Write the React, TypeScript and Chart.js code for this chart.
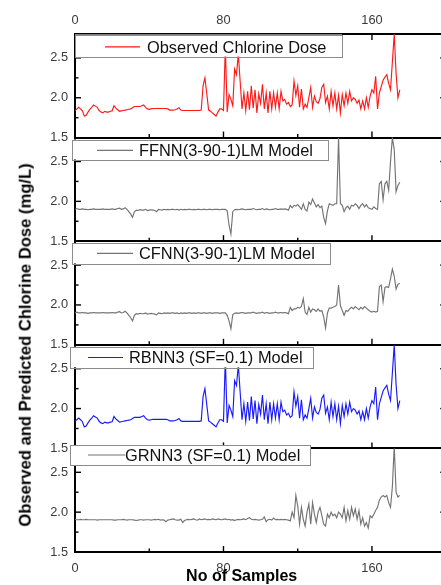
import { useEffect, useRef } from "react";
import { Chart, registerables } from "chart.js";

Chart.register(...registerables);

// ---------- DATA ----------
const observedDose = [
  1.835, 1.86, 1.88, 1.86, 1.835, 1.77, 1.78, 1.82, 1.855, 1.88,
  1.91, 1.895, 1.88, 1.84, 1.82, 1.81, 1.83, 1.82, 1.82, 1.83,
  1.835, 1.9, 1.87, 1.85, 1.83, 1.835, 1.84, 1.845, 1.85, 1.855,
  1.86, 1.875, 1.89, 1.89, 1.89, 1.89, 1.9, 1.91, 1.88, 1.86,
  1.855, 1.86, 1.865, 1.865, 1.865, 1.865, 1.865, 1.865, 1.865, 1.865,
  1.86, 1.845, 1.845, 1.845, 1.85, 1.86, 1.875, 1.845, 1.84, 1.84,
  1.84, 1.84, 1.84, 1.84, 1.84, 1.84, 1.84, 1.84, 1.845, 2.15,
  2.25, 2.05, 1.845, 1.83, 1.81, 1.79, 1.77, 1.82, 1.86, 1.86,
  1.84, 2.65, 1.82, 2.04, 1.98, 1.9, 2.36, 2.29, 2.55, 2.2,
  1.86, 2.06, 1.84, 2.08, 1.85, 2.15, 1.87, 2.1, 1.81, 2.05,
  1.93, 2.17, 1.86, 2.06, 1.81, 2.08, 1.86, 2.06, 1.88, 2.06,
  1.86, 2.08, 1.96, 1.98, 1.92, 1.94, 1.89, 1.91, 2.21, 2.03,
  2.15, 1.88, 2.11, 1.86, 1.92, 1.88, 2.0, 2.13, 1.88, 2.02,
  1.95, 1.93, 1.99, 2.13, 2.17, 1.94, 2.02, 1.86, 2.08, 1.9,
  2.06, 1.86, 2.03, 1.81, 2.04, 1.9, 2.06, 1.93, 2.08, 1.96,
  2.0, 1.98, 1.93, 1.97, 1.86, 1.96, 1.86, 2.0, 1.88, 2.02,
  2.1, 2.06, 2.27, 1.86, 2.06, 2.14, 2.22, 2.26, 2.29, 2.18,
  2.1, 2.45, 2.8, 2.3, 2.0, 2.1,
];

const ffnnDose = [
  1.9, 1.91, 1.9, 1.9, 1.905, 1.9, 1.9, 1.895, 1.9, 1.9,
  1.905, 1.9, 1.9, 1.9, 1.9, 1.905, 1.9, 1.9, 1.9, 1.9,
  1.905, 1.9, 1.9, 1.91, 1.915, 1.9, 1.905, 1.92, 1.9, 1.87,
  1.84, 1.8, 1.87, 1.89, 1.885, 1.895, 1.89, 1.89, 1.9, 1.885,
  1.89, 1.895, 1.89, 1.885, 1.87, 1.9, 1.895, 1.89, 1.9, 1.895,
  1.9, 1.895, 1.9, 1.9, 1.895, 1.9, 1.89, 1.9, 1.895, 1.9,
  1.895, 1.9, 1.9, 1.895, 1.9, 1.895, 1.9, 1.9, 1.895, 1.9,
  1.9, 1.895, 1.9, 1.9, 1.895, 1.9, 1.9, 1.9, 1.895, 1.9,
  1.9, 1.9, 1.88, 1.7, 1.59, 1.87, 1.895, 1.9, 1.895, 1.9,
  1.905, 1.9, 1.895, 1.9, 1.9, 1.9, 1.91, 1.9, 1.895, 1.9,
  1.9, 1.91, 1.895, 1.905, 1.9, 1.895, 1.9, 1.9, 1.91, 1.9,
  1.9, 1.905, 1.9, 1.905, 1.9, 1.89, 1.95, 1.92, 1.95, 1.94,
  1.96, 1.93, 1.9, 1.97, 1.9, 1.88, 1.99, 1.96, 2.03, 1.98,
  1.93, 1.96, 1.92, 1.94, 1.8, 1.72, 1.88, 1.97, 1.96, 1.95,
  1.97, 1.97, 2.8, 1.97, 1.95, 1.87, 1.92, 1.94, 1.9, 1.95,
  1.94, 1.97, 1.95, 1.91, 1.95, 1.97, 1.93, 1.96, 1.92, 1.91,
  1.9, 1.93, 1.91, 1.9, 2.22, 2.25, 2.02, 2.22, 2.25, 2.14,
  2.5, 2.8, 2.65, 2.12, 2.2, 2.24,
];

const cfnnDose = [
  1.9, 1.91, 1.9, 1.9, 1.905, 1.9, 1.9, 1.895, 1.9, 1.9,
  1.905, 1.9, 1.9, 1.9, 1.9, 1.905, 1.9, 1.9, 1.9, 1.9,
  1.905, 1.9, 1.9, 1.91, 1.915, 1.9, 1.905, 1.92, 1.9, 1.87,
  1.84, 1.8, 1.87, 1.89, 1.885, 1.895, 1.89, 1.89, 1.9, 1.885,
  1.89, 1.895, 1.89, 1.885, 1.875, 1.9, 1.895, 1.89, 1.9, 1.895,
  1.9, 1.895, 1.9, 1.9, 1.895, 1.9, 1.89, 1.9, 1.895, 1.9,
  1.895, 1.9, 1.9, 1.895, 1.9, 1.895, 1.9, 1.9, 1.895, 1.9,
  1.9, 1.895, 1.9, 1.9, 1.895, 1.9, 1.9, 1.9, 1.895, 1.9,
  1.9, 1.9, 1.87, 1.8, 1.7, 1.88, 1.895, 1.9, 1.895, 1.9,
  1.905, 1.9, 1.895, 1.9, 1.9, 1.9, 1.91, 1.9, 1.895, 1.9,
  1.9, 1.91, 1.895, 1.905, 1.9, 1.895, 1.9, 1.9, 1.91, 1.9,
  1.9, 1.905, 1.9, 1.905, 1.9, 1.89, 1.97, 1.93, 1.95, 1.95,
  1.97, 1.96, 1.98, 2.08, 1.91, 1.88, 1.97, 1.91, 1.95, 1.94,
  1.92, 1.95, 1.92, 1.93, 1.85, 1.71, 1.9, 1.96, 1.96, 1.97,
  1.98, 2.0, 2.25, 1.99, 1.93, 1.87, 1.93, 1.92, 1.95, 1.97,
  1.95, 1.98, 1.96, 1.94, 1.97, 1.95, 1.98, 1.96, 1.94, 1.92,
  1.91, 1.92, 1.91, 1.92, 2.23, 2.25, 2.04, 2.22, 2.23, 2.22,
  2.33, 2.45, 2.36, 2.2, 2.26, 2.27,
];

const rbnnDose = [
  1.835, 1.86, 1.88, 1.86, 1.835, 1.77, 1.78, 1.82, 1.855, 1.88,
  1.91, 1.895, 1.88, 1.84, 1.82, 1.81, 1.83, 1.82, 1.82, 1.83,
  1.835, 1.9, 1.87, 1.85, 1.83, 1.835, 1.84, 1.845, 1.85, 1.855,
  1.86, 1.875, 1.89, 1.89, 1.89, 1.89, 1.9, 1.91, 1.88, 1.86,
  1.855, 1.86, 1.865, 1.865, 1.865, 1.865, 1.865, 1.865, 1.865, 1.865,
  1.86, 1.845, 1.845, 1.845, 1.85, 1.86, 1.875, 1.845, 1.84, 1.84,
  1.84, 1.84, 1.84, 1.84, 1.84, 1.84, 1.84, 1.84, 1.845, 2.15,
  2.25, 2.05, 1.845, 1.83, 1.81, 1.79, 1.77, 1.82, 1.86, 1.86,
  1.84, 2.64, 1.82, 2.04, 1.98, 1.9, 2.35, 2.29, 2.55, 2.2,
  1.86, 2.06, 1.84, 2.08, 1.85, 2.15, 1.87, 2.1, 1.81, 2.05,
  1.93, 2.17, 1.86, 2.06, 1.81, 2.08, 1.86, 2.06, 1.88, 2.06,
  1.86, 2.08, 1.96, 1.98, 1.92, 1.94, 1.89, 1.91, 2.21, 2.03,
  2.15, 1.88, 2.11, 1.86, 1.92, 1.88, 2.0, 2.13, 1.88, 2.02,
  1.95, 1.93, 1.99, 2.13, 2.17, 1.94, 2.02, 1.86, 2.08, 1.9,
  2.06, 1.86, 2.03, 1.81, 2.04, 1.9, 2.06, 1.93, 2.08, 1.96,
  2.0, 1.98, 1.93, 1.97, 1.86, 1.96, 1.86, 2.0, 1.88, 2.02,
  2.1, 2.06, 2.27, 1.86, 2.06, 2.14, 2.22, 2.26, 2.29, 2.18,
  2.1, 2.45, 2.8, 2.3, 2.0, 2.1,
];

const grnnDose = [
  1.91, 1.905, 1.905, 1.91, 1.905, 1.905, 1.91, 1.905, 1.905, 1.905,
  1.905, 1.905, 1.9, 1.905, 1.905, 1.905, 1.905, 1.905, 1.905, 1.905,
  1.905, 1.9, 1.9, 1.905, 1.905, 1.905, 1.91, 1.905, 1.9, 1.905,
  1.905, 1.905, 1.9, 1.895, 1.9, 1.905, 1.905, 1.9, 1.905, 1.905,
  1.905, 1.9, 1.905, 1.91, 1.905, 1.91, 1.9, 1.905, 1.9, 1.88,
  1.9, 1.905, 1.91, 1.915, 1.905, 1.9, 1.9, 1.91, 1.87, 1.895,
  1.905, 1.91, 1.905, 1.91, 1.915, 1.905, 1.9, 1.915, 1.905, 1.91,
  1.915, 1.905, 1.91, 1.905, 1.915, 1.91, 1.905, 1.915, 1.91, 1.905,
  1.91, 1.915, 1.905, 1.91, 1.9, 1.905, 1.895, 1.905, 1.91, 1.905,
  1.91, 1.915, 1.905, 1.92, 1.93, 1.91, 1.905, 1.91, 1.905, 1.9,
  1.905, 1.91, 1.94, 1.88, 1.905, 1.91, 1.9, 1.925, 1.905, 1.91,
  1.905, 1.91, 1.905, 1.91, 1.905, 1.9, 1.89, 2.0, 1.93, 2.21,
  2.08, 1.85, 2.06, 1.91, 1.825, 2.0, 2.1, 1.85, 2.12, 1.975,
  1.87, 2.0, 2.06, 1.955, 1.85, 1.825, 1.975, 1.93, 2.0, 1.955,
  1.975, 1.93, 2.0, 1.975, 1.93, 2.06, 1.89, 2.02, 1.91, 2.06,
  1.955, 2.04, 1.91, 2.02, 1.85, 1.93, 1.825, 1.87, 1.8, 1.955,
  1.93, 1.975, 2.02, 2.06, 2.15, 2.19, 2.21, 2.19, 2.21, 2.12,
  2.06, 2.32, 2.83, 2.25, 2.19, 2.21,
];

const seriesLabels = [
  "Observed Chlorine Dose",
  "FFNN(3-90-1)LM Model",
  "CFNN(3-90-1)LM Model",
  "RBNN3 (SF=0.1) Model",
  "GRNN3 (SF=0.1) Model",
];
const seriesValues = [observedDose, ffnnDose, cfnnDose, rbnnDose, grnnDose];

const xLabelTicks = [0, 80, 160];
const yLabelTicks = [1.5, 2.0, 2.5];
const X_MIN = 0;
const X_MAX = 200;
const Y_MIN = 1.5;
const Y_MAX = 2.8;

// ---------- LAYOUT / STYLE ----------
const W = 460;
const H = 585;
const PLOT_RIGHT = 446.2;
const PLOT_TOP = 34;
const PANEL_H = 103.6;
const FONT = '"Liberation Sans", Arial, sans-serif';

const panelStyles = [
  { color: "#ff1a1a", box: [75, 34.5, 267, 22], line: [105, 140, 46.8], textX: 147, textY: 47 },
  { color: "#747474", box: [72, 139.5, 256, 20], line: [97, 133, 150.3], textX: 139, textY: 150 },
  { color: "#747474", box: [72, 243, 258, 20.5], line: [97, 133, 253.3], textX: 139, textY: 253.5 },
  { color: "#1a1aff", box: [70, 346.8, 243, 20.5], line: [88, 123, 357.5], textX: 129, textY: 357.5 },
  { color: "#747474", box: [70, 445, 240, 20], line: [88, 125, 455], textX: 125, textY: 455 },
];

Chart.defaults.font.family = FONT;

function makeDecor(k: number) {
  return {
    id: "panelDecor" + k,
    afterDatasetsDraw(chart: any) {
      const ctx = chart.ctx;
      const { left, right, top, bottom } = chart.chartArea;
      ctx.save();
      ctx.strokeStyle = "#000";
      ctx.lineWidth = 1.4;
      Object.values(chart.scales).forEach((scale: any) => {
        scale.ticks.forEach((t: any) => {
          const v = t.value;
          if (v === scale.min || v === scale.max) return;
          const p = scale.getPixelForValue(v);
          ctx.beginPath();
          if (scale.axis === "x") {
            const len = xLabelTicks.includes(v) ? 6 : 3.5;
            if (scale.position === "top") {
              ctx.moveTo(p, top);
              ctx.lineTo(p, top + len);
            } else {
              ctx.moveTo(p, bottom);
              ctx.lineTo(p, bottom - len);
            }
          } else {
            const len = yLabelTicks.includes(v) ? 6 : 3.5;
            if (scale.position === "left") {
              ctx.moveTo(left, p);
              ctx.lineTo(left + len, p);
            } else {
              ctx.moveTo(right, p);
              ctx.lineTo(right - len, p);
            }
          }
          ctx.stroke();
        });
      });
      ctx.restore();
    },
    afterDraw(chart: any) {
      const ctx = chart.ctx;
      const st = panelStyles[k];
      const [bx, by, bw, bh] = st.box;
      ctx.save();
      ctx.fillStyle = "#ffffff";
      ctx.fillRect(bx, by, bw, bh);
      ctx.strokeStyle = "#8c8c8c";
      ctx.lineWidth = 1;
      ctx.strokeRect(Math.round(bx) + 0.5, Math.round(by) + 0.5, Math.round(bw), Math.round(bh));
      ctx.strokeStyle = st.color;
      ctx.lineWidth = 1.2;
      ctx.beginPath();
      ctx.moveTo(st.line[0], st.line[2]);
      ctx.lineTo(st.line[1], st.line[2]);
      ctx.stroke();
      ctx.fillStyle = "#111";
      ctx.font = "16.4px " + FONT;
      ctx.textBaseline = "middle";
      ctx.textAlign = "left";
      ctx.fillText(chart.data.datasets[0].label, st.textX, st.textY + 1);
      ctx.restore();
    },
  };
}

export default function App() {
  const refs = useRef<(HTMLCanvasElement | null)[]>([]);

  useEffect(() => {
    const charts = seriesValues.map((values, k) => {
      const canvas = refs.current[k] as HTMLCanvasElement;
      const top = PLOT_TOP + k * PANEL_H;
      const bottom = top + PANEL_H;
      const isTop = k === 0;
      const isBottom = k === seriesValues.length - 1;
      const tickFont = { size: 12.8, family: FONT };

      const scales: any = {
        x: {
          type: "linear",
          position: "bottom",
          min: X_MIN,
          max: X_MAX,
          grid: { display: false, drawTicks: false },
          border: { display: true, color: "#000", width: 2 },
          ticks: {
            display: isBottom,
            stepSize: 40,
            autoSkip: false,
            maxRotation: 0,
            padding: 8.5,
            color: "#3a3a3a",
            font: tickFont,
            callback: (v: any) => (xLabelTicks.includes(v) ? String(v) : ""),
          },
          afterFit: (s: any) => {
            s.height = isBottom ? H - bottom : 0;
            s.paddingLeft = 0;
            s.paddingRight = 0;
          },
        },
        y: {
          type: "linear",
          position: "left",
          min: Y_MIN,
          max: Y_MAX,
          grid: { display: false, drawTicks: false },
          border: { display: true, color: "#000", width: 2 },
          ticks: {
            stepSize: 0.25,
            includeBounds: false,
            autoSkip: false,
            padding: 7,
            color: "#3a3a3a",
            font: tickFont,
            callback: (v: any) => (yLabelTicks.includes(v) ? Number(v).toFixed(1) : ""),
          },
          afterFit: (s: any) => {
            s.width = 75;
            s.paddingTop = 0;
            s.paddingBottom = 0;
          },
        },
        yRight: {
          type: "linear",
          position: "right",
          min: Y_MIN,
          max: Y_MAX,
          grid: { display: false, drawTicks: false },
          border: { display: true, color: "#000", width: 2 },
          ticks: {
            display: false,
            stepSize: 0.25,
            includeBounds: false,
            callback: (v: any) => (yLabelTicks.includes(v) ? Number(v).toFixed(1) : ""),
          },
          afterFit: (s: any) => {
            s.width = 0;
            s.paddingTop = 0;
            s.paddingBottom = 0;
          },
        },
      };
      if (isTop) {
        scales.xTop = {
          type: "linear",
          position: "top",
          min: X_MIN,
          max: X_MAX,
          grid: { display: false, drawTicks: false },
          border: { display: true, color: "#000", width: 2 },
          ticks: {
            stepSize: 40,
            autoSkip: false,
            maxRotation: 0,
            padding: 5.5,
            color: "#3a3a3a",
            font: tickFont,
            callback: (v: any) => (xLabelTicks.includes(v) ? String(v) : ""),
          },
          afterFit: (s: any) => {
            s.height = top;
            s.paddingLeft = 0;
            s.paddingRight = 0;
          },
        };
      }

      return new Chart(canvas, {
        type: "line",
        data: {
          datasets: [
            {
              label: seriesLabels[k],
              data: values.map((v, i) => ({ x: i, y: v })),
              xAxisID: "x",
              yAxisID: "y",
              borderColor: panelStyles[k].color,
              borderWidth: 1.15,
              pointRadius: 0,
              tension: 0,
              fill: false,
            },
          ],
        },
        options: {
          responsive: false,
          animation: false,
          events: [],
          devicePixelRatio: 1,
          layout: {
            padding: {
              top: isTop ? 0 : top,
              bottom: isBottom ? 0 : H - bottom,
              left: 0,
              right: W - PLOT_RIGHT,
            },
          },
          plugins: {
            legend: { display: false },
            tooltip: { enabled: false },
            title: { display: false },
          },
          scales,
        },
        plugins: [makeDecor(k)],
      } as any);
    });
    return () => charts.forEach((c) => c.destroy());
  }, []);

  return (
    <div
      style={{
        position: "absolute",
        left: 0,
        top: 0,
        width: 441,
        height: 585,
        overflow: "hidden",
        background: "#fff",
      }}
    >
      {seriesValues.map((_, k) => (
        <canvas
          key={k}
          ref={(el) => {
            refs.current[k] = el;
          }}
          width={W}
          height={H}
          style={{ position: "absolute", left: 0, top: 0, width: W, height: H, display: "block" }}
        />
      ))}
      <div
        style={{
          position: "absolute",
          left: 25.5,
          top: 345,
          transform: "translate(-50%, -50%) rotate(-90deg)",
          whiteSpace: "nowrap",
          fontFamily: FONT,
          fontWeight: "bold",
          fontSize: 16.6,
          color: "#000",
          lineHeight: 1,
        }}
      >
        Observed and Predicted Chlorine Dose (mg/L)
      </div>
      <div
        style={{
          position: "absolute",
          left: 241.7,
          top: 575.5,
          transform: "translate(-50%, -50%)",
          whiteSpace: "nowrap",
          fontFamily: FONT,
          fontWeight: "bold",
          fontSize: 16,
          color: "#000",
          lineHeight: 1,
        }}
      >
        No of Samples
      </div>
    </div>
  );
}
